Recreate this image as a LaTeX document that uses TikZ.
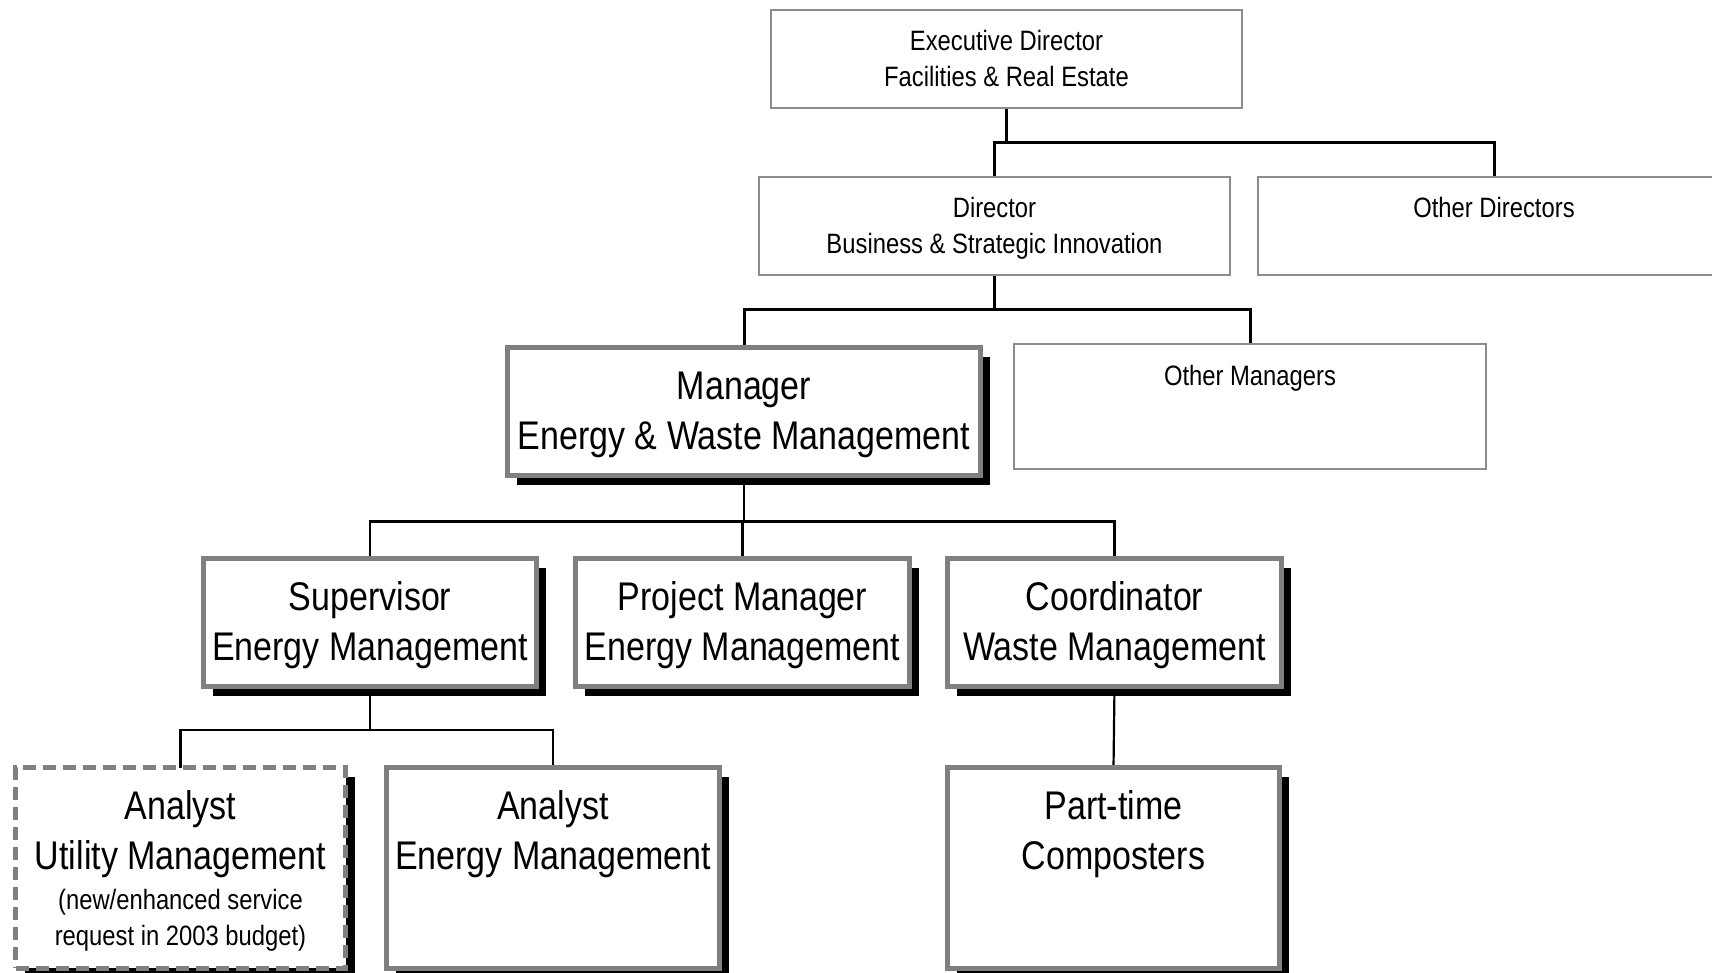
\documentclass[tikz,border=0pt]{standalone}
\usepackage{fontspec}
\setmainfont{Liberation Sans}[FakeStretch=0.85]
\usetikzlibrary{shadows,backgrounds}

\newcommand{\smalltxt}{\fontsize{28}{36}\selectfont}
\newcommand{\bigtxt}{\fontsize{40}{50}\selectfont}

\begin{document}
\begin{tikzpicture}[x=1pt,y=-1pt,line join=miter,
	every node/.style={inner sep=0pt,outer sep=0pt,align=flush center,anchor=north},
	plainbox/.style={draw=black!45,line width=1.5pt,fill=white,font=\smalltxt,text height=41pt},
	heavybox/.style={draw=black!50,line width=5pt,fill=white,font=\bigtxt,text height=51.5pt,
		drop shadow={shadow xshift=9pt,shadow yshift=-9pt,fill=black,opacity=1}},
	newbox/.style={heavybox,dash pattern=on 13pt off 7pt},
	link/.style={line width=3pt},
	sublink/.style={line width=2.2pt}]
	\useasboundingbox (0,0) rectangle (1712,973);
	% top levels
	\node[plainbox,text width=471pt,text depth=57pt] (exec) at (1006.5,10) {Executive Director\\Facilities \& Real Estate};
	\node[plainbox,text width=471pt,text depth=57pt] (dir) at (994.5,177) {Director\\Business \& Strategic Innovation};
	\node[plainbox,text width=472pt,text depth=57pt] (otherdir) at (1494,177) {Other Directors};
	\node[plainbox,text width=472pt,text depth=84pt] (othermgr) at (1250,344) {Other Managers};
	\node[heavybox,text width=473pt,text depth=76.5pt] (mgr) at (744,347.5) {Manager\\Energy \& Waste Management};
	% section staff
	\node[heavybox,text width=333pt,text depth=76.5pt] (sup) at (370,558.5) {Supervisor\\Energy Management};
	\node[heavybox,text width=334pt,text depth=76.5pt] (pm) at (742.5,558.5) {Project Manager\\Energy Management};
	\node[heavybox,text width=334pt,text depth=76.5pt] (coord) at (1114.5,558.5) {Coordinator\\Waste Management};
	\node[newbox,text width=330pt,text depth=149pt] (aum) at (180.5,767.5) {Analyst\\Utility Management\\[4pt]\smalltxt (new/enhanced service\\request in 2003 budget)\par};
	\node[heavybox,text width=333pt,text depth=149pt] (aem) at (553,767.5) {Analyst\\Energy Management};
	\node[heavybox,text width=332pt,text depth=149pt] (pt) at (1113.5,767.5) {Part-time\\Composters};
	\begin{scope}[on background layer]
		\draw[link] (exec.south) -- ++(0,35) coordinate (j1);
		\draw[link] (dir.north) |- (j1) (otherdir.north) |- (j1);
		\draw[link] (dir.south) -- ++(0,35) coordinate (j2);
		\draw[link] (mgr.north) |- (j2) (othermgr.north) |- (j2);
		\draw[sublink] (mgr.south) -- ++(0,46) coordinate (j3);
		\draw[sublink] (sup.north) |- (j3) (pm.north) |- (j3) (coord.north) |- (j3);
		\draw[sublink] (sup.south) -- ++(0,43.5) coordinate (j4);
		\draw[sublink] (aum.north) |- (j4) (aem.north) |- (j4);
		\draw[sublink] (coord.south) -- (pt.north);
	\end{scope}
\end{tikzpicture}
\end{document}
